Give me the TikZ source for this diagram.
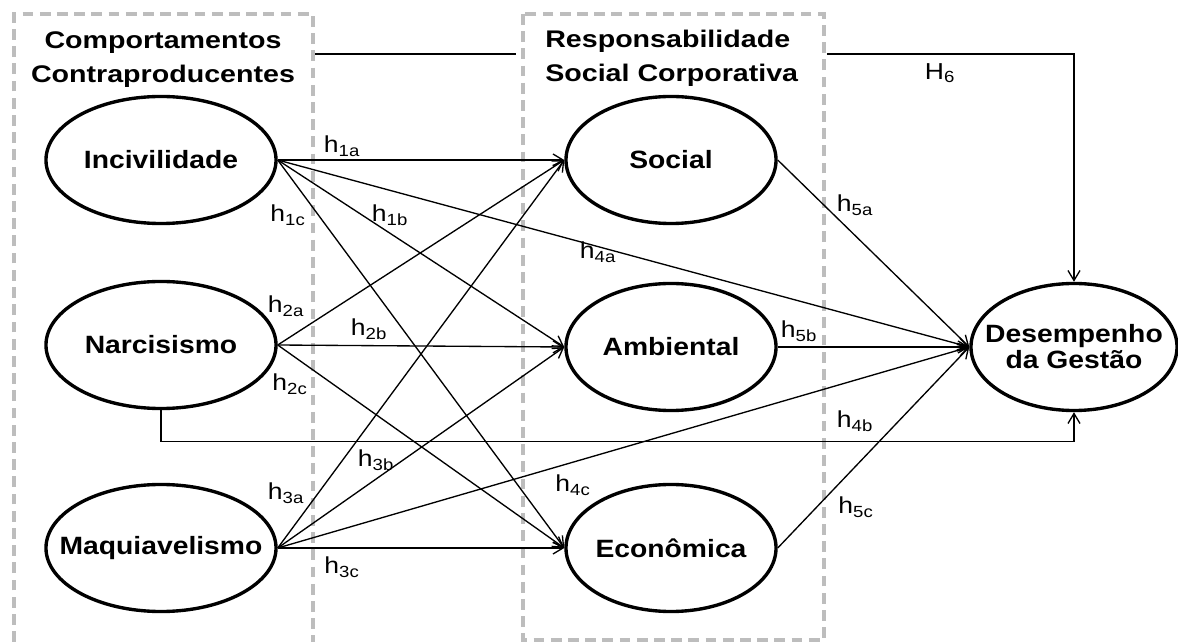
\documentclass[tikz,border=0pt]{standalone}
\usepackage{fontspec}
\setmainfont{Liberation Sans}
\newfontfamily\ellfont[FakeStretch=1.13]{Liberation Sans}
\newfontfamily\grpfont[FakeStretch=1.19]{Liberation Sans}
\newfontfamily\hypfont[FakeStretch=1.15]{Liberation Sans}
\usepackage{tikz}
\usetikzlibrary{shapes.geometric, arrows.meta, positioning, calc}
\definecolor{BoxGray}{HTML}{BDBDBD}
\newcommand{\hyp}[1]{h\textsubscript{#1}}

\begin{document}
\begin{tikzpicture}[
  x=0.025cm, y=-0.025cm,
  construct/.style={ellipse, draw, line width=2.4pt, fill=white,
    inner xsep=-1.2cm, inner ysep=0pt,
    minimum height=3.175cm, align=center,
    font=\ellfont\bfseries\fontsize{17.8pt}{18.5pt}\selectfont},
  leftcon/.style={construct, minimum width=5.75cm},
  rightcon/.style={construct, minimum width=5.25cm},
  effect/.style={-{Straight Barb[length=0.25cm,width=0.3cm]}, line width=0.95pt},
  grpbox/.style={draw=BoxGray, line width=2.3pt, dash pattern=on 0.27cm off 0.16cm},
  grptitle/.style={inner sep=0pt, font=\grpfont\bfseries\fontsize{17.1pt}{24.2pt}\selectfont},
  hlab/.style={inner sep=0pt, font=\hypfont\fontsize{16.4pt}{18pt}\selectfont}
]
\useasboundingbox (0,0) rectangle (1178,642);

\node[leftcon]  (inc) at (161,160) {Incivilidade};
\node[leftcon]  (nar) at (161,345) {Narcisismo};
\node[leftcon]  (maq) at (161,548) {Maquiavelismo};
\node[rightcon] (soc) at (671,160) {Social};
\node[rightcon] (amb) at (671,347) {Ambiental};
\node[rightcon] (eco) at (671,548) {Econ\^omica};
\node[construct, minimum width=5.15cm] (des) at (1074,347) {Desempenho\\da Gest\~ao};

% H6, from the whole group
\coordinate (h6start) at (313,54);
\draw[effect] (h6start) -| (des.north);

% Group titles
\node[grptitle, align=center, anchor=north] (cctitle) at (163,31) {Comportamentos\\Contraproducentes};
\node[grptitle, align=left, anchor=north west, fill=white, inner xsep=0.725cm]
  (rsctitle) at (516,30) {Responsabilidade\\Social Corporativa};

% Group boxes
\draw[grpbox] (14,642) -- (14,14) -- (313,14) -- (313,642);
\draw[grpbox] (523,14) rectangle (824,640);

% Paths
\draw[effect] (inc.east) -- (soc.west);
\draw[effect] (inc.east) -- (amb.west);
\draw[effect] (inc.east) -- (eco.west);
\draw[effect] (inc.east) -- (des.west);
\draw[effect] (nar.east) -- (soc.west);
\draw[effect] (nar.east) -- (amb.west);
\draw[effect] (nar.east) -- (eco.west);
\draw[effect] (nar.south) -- ++(0,31) -| (des.south);
\draw[effect] (maq.east) -- (soc.west);
\draw[effect] (maq.east) -- (amb.west);
\draw[effect] (maq.east) -- (eco.west);
\draw[effect] (maq.east) -- (des.west);
\draw[effect] (soc.east) -- (des.west);
\draw[effect] (amb.east) -- (des.west);
\draw[effect] (eco.east) -- (des.west);

% Labels
\node[hlab] (l1a) at (342,146) {\hyp{1a}};
\node[hlab] (l1b) at (390,215) {\hyp{1b}};
\node[hlab] (l1c) at (288,215) {\hyp{1c}};
\node[hlab] (l2a) at (286,306) {\hyp{2a}};
\node[hlab] (l2b) at (369,329) {\hyp{2b}};
\node[hlab] (l2c) at (290,384) {\hyp{2c}};
\node[hlab] (l3a) at (286,493) {\hyp{3a}};
\node[hlab] (l3b) at (376,460) {\hyp{3b}};
\node[hlab] (l3c) at (342,567) {\hyp{3c}};
\node[hlab] (l4a) at (598,252) {\hyp{4a}};
\node[hlab] (l4b) at (855,421) {\hyp{4b}};
\node[hlab] (l4c) at (573,485) {\hyp{4c}};
\node[hlab] (l5a) at (855,205) {\hyp{5a}};
\node[hlab] (l5b) at (799,331) {\hyp{5b}};
\node[hlab] (l5c) at (856,507) {\hyp{5c}};
\node[hlab] (lH6) at (940,73) {H\textsubscript{6}};

\end{tikzpicture}
\end{document}
